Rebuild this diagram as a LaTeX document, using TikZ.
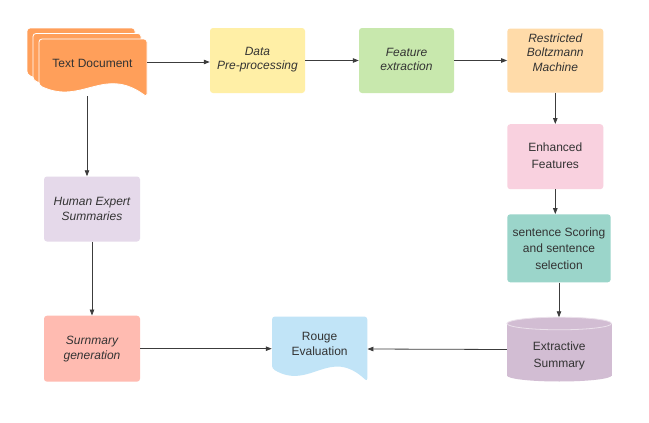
\documentclass[tikz,border=0pt]{standalone}
\usepackage{fontspec}
\setmainfont{Liberation Sans}
\usetikzlibrary{arrows.meta}
\definecolor{cDoc}{HTML}{FF9F5A}
\definecolor{cData}{HTML}{FFEFA6}
\definecolor{cFeat}{HTML}{C8E8AD}
\definecolor{cRBM}{HTML}{FFDBA9}
\definecolor{cEnh}{HTML}{F9D1DF}
\definecolor{cSent}{HTML}{9BD5CA}
\definecolor{cExt}{HTML}{D2BDD3}
\definecolor{cRouge}{HTML}{C1E4F7}
\definecolor{cSum}{HTML}{FFBBB1}
\definecolor{cHum}{HTML}{E5D9EA}
\definecolor{cText}{HTML}{333333}
\definecolor{cLine}{HTML}{3C3C3C}
\newcommand\DocPath[4]{(#1,{#2+0.8*#4}) -- (#1,#2) -- ({#1+#3},#2) -- ({#1+#3},{#2+#4}) .. controls ({#1+0.6*#3},{#2+0.45*#4}) and ({#1+0.4*#3},{#2+1.15*#4}) .. (#1,{#2+0.8*#4}) -- cycle}
\begin{document}
\begin{tikzpicture}[x=1pt,y=-1pt,
  box/.style={draw=none, rounded corners=3pt, inner sep=0pt},
  ghost/.style={draw=none, fill=none, inner sep=0pt},
  txt/.style={font=\fontsize{12}{14.5}\selectfont, text=cText, align=center, inner sep=0pt},
  txtw/.style={font=\fontsize{12}{16.7}\selectfont, text=cText, align=center, inner sep=0pt},
  arr/.style={draw=cLine, line width=0.8pt, -{Triangle[length=6pt,width=4.5pt]}}]
\useasboundingbox (0,0) rectangle (649,423);
\fill[white] (0,0) rectangle (649,423);

% Text Document (multi-document)
\filldraw[fill=cDoc, draw=white, line width=0.8pt, rounded corners=3pt] \DocPath{27}{28}{108}{58};
\filldraw[fill=cDoc, draw=white, line width=0.8pt, rounded corners=3pt] \DocPath{33}{33.5}{108}{58};
\filldraw[fill=cDoc, draw=white, line width=0.8pt, rounded corners=3pt] \DocPath{39}{39}{108}{58};
\node[ghost, minimum width=108pt, minimum height=46pt] (tdoc) at (93,62) {};
\node[txt] (tdocT) at (92.5,63) {Text Document};
\coordinate (tdocB) at (87,96);

% Boxes
\node[box, fill=cData, minimum width=95pt, minimum height=65pt] (data) at (257.5,60.5) {};
\node[txt, font=\fontsize{12}{14.5}\selectfont\itshape] (dataT) at (257.5,59.5) {Data\\Pre-processing};
\node[box, fill=cFeat, minimum width=95pt, minimum height=65pt] (feat) at (406.5,60.5) {};
\node[txt, font=\fontsize{12}{14.5}\selectfont\itshape] (featT) at (406.5,59.5) {Feature\\extraction};
\node[box, fill=cRBM, minimum width=96pt, minimum height=64pt] (rbm) at (555.3,60.5) {};
\node[txt, font=\fontsize{12}{14.5}\selectfont\itshape] (rbmT) at (555.3,52.5) {Restricted\\Boltzmann\\Machine};
\node[box, fill=cEnh, minimum width=96pt, minimum height=65pt] (enh) at (555.3,156.7) {};
\node[txtw] (enhT) at (555.3,155.8) {Enhanced\\Features};
\node[box, fill=cSent, minimum width=103.4pt, minimum height=68pt] (sent) at (559,248.3) {};
\node[txtw] (sentT) at (559,248.6) {sentence Scoring\\and sentence\\selection};
\node[box, fill=cHum, minimum width=96pt, minimum height=65pt] (human) at (92,209) {};
\node[txt, font=\fontsize{12}{14.5}\selectfont\itshape] (humanT) at (92,208.8) {Human Expert\\Summaries};
\node[box, fill=cSum, minimum width=96pt, minimum height=66pt] (sumgen) at (92,348.7) {};
\node[txt, font=\fontsize{12}{15.3}\selectfont\itshape] (sumgenT) at (92,349.3) {Surnmary\\generation};

% Rouge Evaluation (document)
\fill[cRouge, rounded corners=3pt] \DocPath{272}{316.5}{95.3}{65};
\node[ghost, minimum width=95.3pt, minimum height=65pt] (rouge) at (319.6,349) {};
\node[txt] (rougeT) at (319.6,343.8) {Rouge\\Evaluation};

% Extractive Summary (cylinder)
\fill[cExt] (507,323.5) rectangle (611.5,375.5);
\fill[cExt] (559.25,375.5) ellipse [x radius=52.25, y radius=6];
\fill[cExt] (559.25,323.5) ellipse [x radius=52.25, y radius=6.3];
\draw[white!55!cExt, line width=0.8pt] (559.25,323.5) ellipse [x radius=52.25, y radius=6.3];
\node[ghost, minimum width=104.5pt, minimum height=64pt] (extr) at (559.25,349.5) {};
\node[txtw] (extrT) at (559.25,355.8) {Extractive\\Summary};

% Connectors
\draw[arr] (tdoc.east) -- (data.west |- tdoc.east);
\draw[arr] (data) -- (feat);
\draw[arr] (feat) -- (rbm);
\draw[arr] (rbm) -- (enh);
\draw[arr] (enh.south) -- (enh.south |- sent.north);
\draw[arr] (sent) -- (sent |- extr.north);
\draw[arr] (extr.west) -- (rouge.east);
\draw[arr] (sumgen.east) -- (rouge.west |- sumgen.east);
\draw[arr] (human) -- (sumgen);
\draw[arr] (tdocB) -- (tdocB |- human.north);
\end{tikzpicture}
\end{document}
